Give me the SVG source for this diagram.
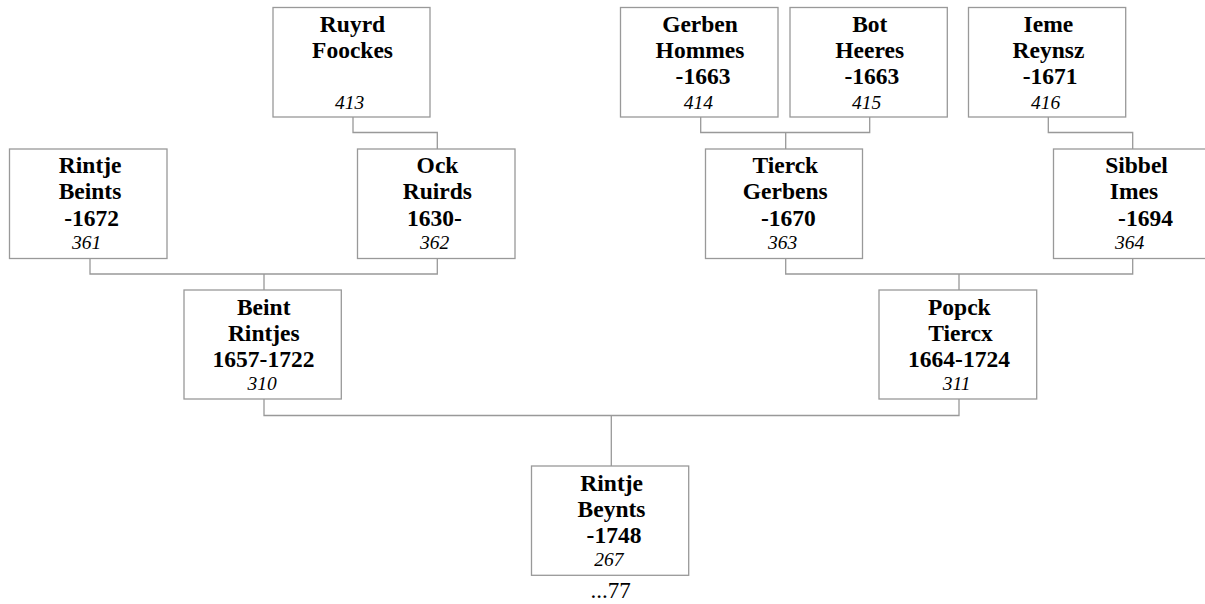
<svg xmlns="http://www.w3.org/2000/svg" width="1205" height="604" viewBox="0 0 1205 604">
<style>
.box{fill:#fff;stroke:#999;stroke-width:1.3}
.n{font-family:"Liberation Serif","Times New Roman",serif;font-weight:bold;font-size:23.5px;text-anchor:middle;fill:#000}
.i{font-family:"Liberation Serif","Times New Roman",serif;font-style:italic;font-size:19.5px;text-anchor:middle;fill:#000}
.r{font-family:"Liberation Serif","Times New Roman",serif;font-size:23px;text-anchor:middle;fill:#000}
.c{fill:none;stroke:#999;stroke-width:1.3}
</style>
<rect width="1205" height="604" fill="#fff"/>
<g id="connectors" class="c">
<path d="M353 117 V132.5 H437.3 V149"/>
<path d="M700.7 117 V132.5 H869.7 V117 M785.7 132.5 V149"/>
<path d="M1048.3 117 V132.5 H1132.7 V149"/>
<path d="M90 258.5 V274 H437.3 V258.5 M264 274 V290"/>
<path d="M785.7 258.5 V274 H1132.7 V258.5 M959 274 V290"/>
<path d="M264 399 V415.5 H959 V399 M611.3 415.5 V466"/>
</g>
<g id="n413">
<rect class="box" x="273" y="7.5" width="157" height="109.5"/>
<text class="n" x="352.5" y="32.3">Ruyrd</text>
<text class="n" x="352.5" y="58.3">Foockes</text>
<text class="i" x="349.7" y="108.8">413</text>
</g>
<g id="n414">
<rect class="box" x="620.5" y="7.5" width="157.5" height="109.5"/>
<text class="n" x="700" y="32.3">Gerben</text>
<text class="n" x="700" y="58.3">Hommes</text>
<text class="n" x="703" y="84.3">-1663</text>
<text class="i" x="698.3" y="108.5">414</text>
</g>
<g id="n415">
<rect class="box" x="790" y="7.5" width="157.3" height="109.5"/>
<text class="n" x="869.8" y="32.3">Bot</text>
<text class="n" x="869.7" y="58.3">Heeres</text>
<text class="n" x="871.8" y="84.3">-1663</text>
<text class="i" x="866.7" y="108.5">415</text>
</g>
<g id="n416">
<rect class="box" x="968.5" y="7.5" width="157.2" height="109.5"/>
<text class="n" x="1048.4" y="32.3">Ieme</text>
<text class="n" x="1048.5" y="58.3">Reynsz</text>
<text class="n" x="1050.2" y="84.3">-1671</text>
<text class="i" x="1045.7" y="108.5">416</text>
</g>
<g id="n361">
<rect class="box" x="9.5" y="149" width="157.5" height="109.5"/>
<text class="n" x="90.2" y="172.8">Rintje</text>
<text class="n" x="90" y="199.2">Beints</text>
<text class="n" x="91.7" y="225.5">-1672</text>
<text class="i" x="86.5" y="248.8">361</text>
</g>
<g id="n362">
<rect class="box" x="357.5" y="149" width="157.5" height="109.5"/>
<text class="n" x="437.5" y="172.8">Ock</text>
<text class="n" x="437.3" y="199.2">Ruirds</text>
<text class="n" x="434.3" y="225.5">1630-</text>
<text class="i" x="434.5" y="248.8">362</text>
</g>
<g id="n363">
<rect class="box" x="705.5" y="149" width="157" height="109.5"/>
<text class="n" x="785.3" y="172.8">Tierck</text>
<text class="n" x="785.2" y="199.2">Gerbens</text>
<text class="n" x="788.3" y="225.5">-1670</text>
<text class="i" x="782.5" y="248.8">363</text>
</g>
<g id="n364">
<rect class="box" x="1053.5" y="149" width="158" height="109.5"/>
<text class="n" x="1136.5" y="172.8">Sibbel</text>
<text class="n" x="1134" y="199.2">Imes</text>
<text class="n" x="1145.5" y="225.5">-1694</text>
<text class="i" x="1129.7" y="248.8">364</text>
</g>
<g id="n310">
<rect class="box" x="184" y="290" width="157.3" height="109"/>
<text class="n" x="263.7" y="315">Beint</text>
<text class="n" x="263.8" y="340.5">Rintjes</text>
<text class="n" x="263.5" y="366.5">1657-1722</text>
<text class="i" x="262" y="390">310</text>
</g>
<g id="n311">
<rect class="box" x="879" y="290" width="157.7" height="109"/>
<text class="n" x="959.3" y="315">Popck</text>
<text class="n" x="960.5" y="340.5">Tiercx</text>
<text class="n" x="959" y="366.5">1664-1724</text>
<text class="i" x="956.7" y="390">311</text>
</g>
<g id="n267">
<rect class="box" x="531.5" y="466" width="157.2" height="109.3"/>
<text class="n" x="611.7" y="491">Rintje</text>
<text class="n" x="611.5" y="516.7">Beynts</text>
<text class="n" x="614" y="543">-1748</text>
<text class="i" x="608.8" y="565.7">267</text>
<text class="r" x="610.5" y="597.5">...77</text>
</g>
</svg>
